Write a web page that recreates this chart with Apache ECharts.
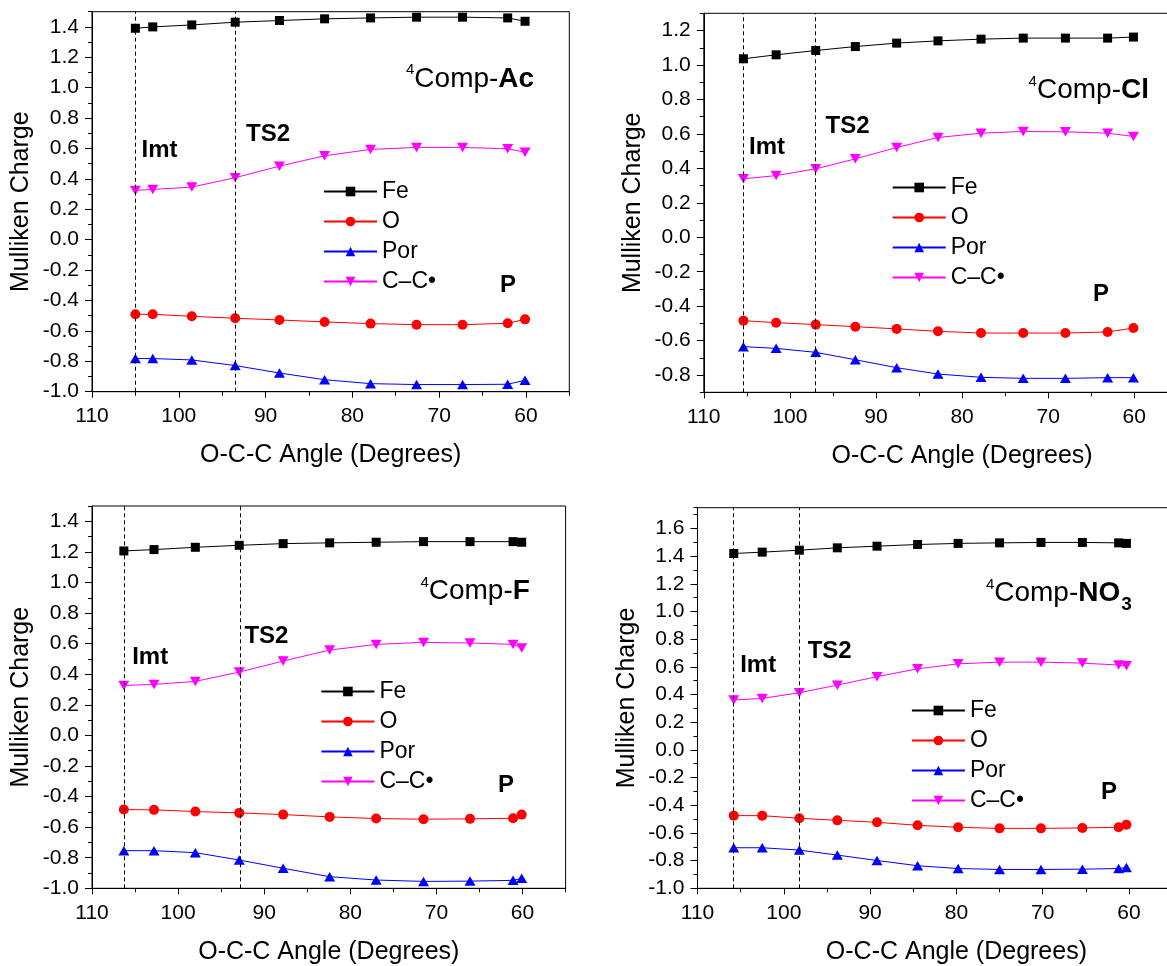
<!DOCTYPE html>
<html><head><meta charset="utf-8">
<script src="https://cdn.jsdelivr.net/npm/echarts@6/dist/echarts.min.js"></script>
<style>html,body{margin:0;padding:0;background:#fff}#c{width:1167px;height:966px}</style>
</head><body><div id="c"></div>
<script>
// ---------- data ----------
const seriesNames = ['Fe', 'O', 'Por', 'C\u2013C\u2022'];
const xTickLabels = [110, 100, 90, 80, 70, 60];

const yTicksAc  = [-1.0, -0.8, -0.6, -0.4, -0.2, 0.0, 0.2, 0.4, 0.6, 0.8, 1.0, 1.2, 1.4];
const yTicksCl  = [-0.8, -0.6, -0.4, -0.2, 0.0, 0.2, 0.4, 0.6, 0.8, 1.0, 1.2];
const yTicksF   = [-1.0, -0.8, -0.6, -0.4, -0.2, 0.0, 0.2, 0.4, 0.6, 0.8, 1.0, 1.2, 1.4];
const yTicksNO3 = [-1.0, -0.8, -0.6, -0.4, -0.2, 0.0, 0.2, 0.4, 0.6, 0.8, 1.0, 1.2, 1.4, 1.6];

// 4Comp-Ac
const angleAc = [105.0, 103.0, 98.5, 93.5, 88.4, 83.2, 77.9, 72.6, 67.3, 62.1, 60.1];
const feAc    = [1.391, 1.400, 1.413, 1.431, 1.442, 1.453, 1.459, 1.464, 1.464, 1.459, 1.437];
const oAc     = [-0.491, -0.491, -0.504, -0.517, -0.528, -0.541, -0.552, -0.559, -0.559, -0.550, -0.524];
const porAc   = [-0.782, -0.782, -0.791, -0.828, -0.877, -0.921, -0.947, -0.953, -0.953, -0.951, -0.925];
const ccAc    = [0.324, 0.331, 0.346, 0.408, 0.484, 0.552, 0.594, 0.607, 0.607, 0.598, 0.576];
const marksAc = [105.0, 93.5];

// 4Comp-Cl
const angleCl = [105.4, 101.6, 97.0, 92.4, 87.6, 82.8, 77.8, 72.9, 68.0, 63.1, 60.1];
const feCl    = [1.036, 1.059, 1.084, 1.107, 1.127, 1.140, 1.150, 1.156, 1.156, 1.156, 1.162];
const oCl     = [-0.484, -0.496, -0.507, -0.519, -0.532, -0.546, -0.556, -0.556, -0.556, -0.550, -0.527];
const porCl   = [-0.635, -0.645, -0.668, -0.711, -0.757, -0.794, -0.813, -0.819, -0.819, -0.815, -0.815];
const ccCl    = [0.339, 0.358, 0.397, 0.455, 0.521, 0.579, 0.604, 0.614, 0.612, 0.604, 0.585];
const marksCl = [105.4, 97.0];

// 4Comp-F
const angleF = [106.3, 102.8, 98.0, 92.9, 87.8, 82.4, 77.0, 71.5, 66.1, 61.1, 60.1];
const feF    = [1.206, 1.215, 1.230, 1.243, 1.254, 1.259, 1.263, 1.267, 1.267, 1.267, 1.263];
const oF     = [-0.485, -0.487, -0.498, -0.507, -0.518, -0.533, -0.544, -0.548, -0.546, -0.542, -0.518];
const porF   = [-0.754, -0.754, -0.767, -0.815, -0.869, -0.924, -0.946, -0.955, -0.953, -0.948, -0.935];
const ccF    = [0.327, 0.333, 0.353, 0.414, 0.486, 0.558, 0.595, 0.608, 0.604, 0.595, 0.571];
const marksF = [106.3, 92.8];

// 4Comp-NO3
const angleNO3 = [105.8, 102.5, 98.2, 93.8, 89.2, 84.5, 79.8, 75.0, 70.2, 65.4, 61.2, 60.3];
const feNO3    = [1.419, 1.429, 1.443, 1.460, 1.472, 1.484, 1.492, 1.496, 1.499, 1.499, 1.496, 1.492];
const oNO3     = [-0.475, -0.475, -0.494, -0.509, -0.523, -0.545, -0.559, -0.567, -0.567, -0.564, -0.559, -0.540];
const porNO3   = [-0.707, -0.707, -0.724, -0.760, -0.799, -0.837, -0.857, -0.864, -0.864, -0.862, -0.857, -0.849];
const ccNO3    = [0.360, 0.372, 0.413, 0.468, 0.529, 0.586, 0.622, 0.634, 0.634, 0.627, 0.613, 0.608];
const marksNO3 = [105.8, 98.2];

// ---------- layout / style ----------
const FONT = '"Liberation Sans", Arial, Helvetica, sans-serif';
const colors = ['#000000', '#ff0000', '#0000ff', '#ff00ff'];
const symbols = ['rect', 'circle', 'triangle', 'path://M0,0L10,0L5,9Z'];
const symbolSizes = [9, 10, [11, 9.5], [11, 9.5]];

const panels = [
  { angle: angleAc, vals: [feAc, oAc, porAc, ccAc], marks: marksAc, yTicks: yTicksAc, yMin: -1.0, yMax: 1.5, xMin: 55,
    grid: { left: 92, top: 11.7, width: 477.3, height: 380 },
    legend: { left: 323, top: 180 },
    imt: [141.5, 150], ts2: [246, 134.3], p: [500, 285], title: [406, 78.8], label: '{b|Ac}' },
  { angle: angleCl, vals: [feCl, oCl, porCl, ccCl], marks: marksCl, yTicks: yTicksCl, yMin: -0.9, yMax: 1.3, xMin: 50,
    grid: { left: 703.8, top: 13.3, width: 516.6, height: 379 },
    legend: { left: 891.7, top: 176 },
    imt: [749, 147.7], ts2: [825.5, 126.7], p: [1093, 294.3], title: [1028.6, 90], label: '{b|Cl}' },
  { angle: angleF, vals: [feF, oF, porF, ccF], marks: marksF, yTicks: yTicksF, yMin: -1.0, yMax: 1.5, xMin: 55,
    grid: { left: 92, top: 506, width: 473.6, height: 382.3 },
    legend: { left: 320.4, top: 680 },
    imt: [132.2, 657.7], ts2: [244.4, 636.7], p: [498, 785], title: [420.4, 591.7], label: '{b|F}' },
  { angle: angleNO3, vals: [feNO3, oNO3, porNO3, ccNO3], marks: marksNO3, yTicks: yTicksNO3, yMin: -1.0, yMax: 1.75, xMin: 50,
    grid: { left: 697.5, top: 507.7, width: 517.8, height: 380.6 },
    legend: { left: 910.9, top: 699 },
    imt: [740.2, 665.7], ts2: [807.7, 651.7], p: [1101, 792.3], title: [985.9, 593.3], label: '{b|NO}{u|3}' }
];

const option = {
  animation: false, backgroundColor: '#ffffff',
  grid: [], xAxis: [], yAxis: [], series: [], legend: [], graphic: []
};

panels.forEach((p, i) => {
  option.grid.push({
    left: p.grid.left, top: p.grid.top, width: p.grid.width, height: p.grid.height,
    show: true, borderColor: '#000', borderWidth: 1, backgroundColor: 'transparent',
    containLabel: false, outerBoundsMode: 'none'
  });
  const xi = option.xAxis.length, yi = option.yAxis.length;
  // main x axis
  option.xAxis.push({
    type: 'value', gridIndex: i, position: 'bottom', inverse: true, min: p.xMin, max: 110, interval: 5,
    axisLine: { show: true, onZero: false, lineStyle: { color: '#000', width: 1 } },
    axisTick: { show: true, inside: false, length: 6, customValues: xTickLabels, lineStyle: { color: '#000', width: 1 } },
    axisLabel: { show: true, customValues: xTickLabels, fontSize: 21, color: '#000', margin: 14, fontFamily: FONT },
    splitLine: { show: false },
    name: 'O-C-C Angle (Degrees)', nameLocation: 'middle', nameGap: 51,
    nameTextStyle: { fontSize: 25, color: '#000', fontFamily: FONT }
  });
  // minor x ticks
  option.xAxis.push({
    type: 'value', gridIndex: i, position: 'bottom', offset: 0, inverse: true, min: p.xMin, max: 110, interval: 5,
    axisLine: { show: false, onZero: false },
    axisTick: { show: true, inside: false, length: 4, lineStyle: { color: '#000', width: 1 } },
    axisLabel: { show: false }, splitLine: { show: false }
  });
  // main y axis
  option.yAxis.push({
    type: 'value', gridIndex: i, position: 'left', min: p.yMin, max: p.yMax, interval: 0.1,
    axisLine: { show: true, onZero: false, lineStyle: { color: '#000', width: 1 } },
    axisTick: { show: true, inside: false, length: 7, customValues: p.yTicks, lineStyle: { color: '#000', width: 1 } },
    axisLabel: { show: true, customValues: p.yTicks, fontSize: 21, color: '#000', margin: 13, fontFamily: FONT,
      formatter: v => Number(v).toFixed(1) },
    splitLine: { show: false },
    name: 'Mulliken Charge', nameLocation: 'middle', nameGap: 58,
    nameTextStyle: { fontSize: 25, color: '#000', fontFamily: FONT }
  });
  // minor y ticks
  option.yAxis.push({
    type: 'value', gridIndex: i, position: 'left', offset: 0, min: p.yMin, max: p.yMax, interval: 0.1,
    axisLine: { show: false, onZero: false },
    axisTick: { show: true, inside: false, length: 4, lineStyle: { color: '#000', width: 1 } },
    axisLabel: { show: false }, splitLine: { show: false }
  });

  seriesNames.forEach((nm, s) => {
    const ser = {
      type: 'line', name: nm, xAxisIndex: xi, yAxisIndex: yi,
      data: p.angle.map((a, k) => [a, p.vals[s][k]]),
      symbol: symbols[s], symbolSize: symbolSizes[s], showSymbol: true,
      lineStyle: { color: colors[s], width: 1 },
      itemStyle: { color: colors[s], borderWidth: 0 },
      emphasis: { disabled: true }, silent: true, z: 3
    };
    if (s === 0) {
      ser.markLine = {
        silent: true, symbol: ['none', 'none'], animation: false,
        lineStyle: { color: '#000', type: [4, 3], width: 1 },
        label: { show: false }, emphasis: { disabled: true },
        data: p.marks.map(v => ({ xAxis: v }))
      };
    }
    option.series.push(ser);
  });

  option.legend.push({
    orient: 'vertical', left: p.legend.left, top: p.legend.top, padding: 0,
    itemWidth: 53, itemHeight: 12, itemGap: 7, selectedMode: false,
    data: seriesNames,
    textStyle: { fontSize: 23, color: '#000', fontFamily: FONT, lineHeight: 22.5 }
  });

  const bold = (t, xy) => ({
    type: 'text', x: xy[0], y: xy[1], silent: true, z: 10,
    style: { text: t, fontSize: 24, fontWeight: 'bold', fontFamily: FONT, fill: '#000', align: 'left', verticalAlign: 'middle' }
  });
  option.graphic.push(bold('Imt', p.imt), bold('TS2', p.ts2), bold('P', p.p));
  option.graphic.push({
    type: 'text', x: p.title[0], y: p.title[1], silent: true, z: 10,
    style: {
      text: '{s|4}{n|Comp-}' + p.label, fill: '#000', align: 'left', verticalAlign: 'middle',
      rich: {
        s: { fontSize: 15, fontFamily: FONT, verticalAlign: 'top', padding: [6, 0, 0, 0] },
        n: { fontSize: 28, fontFamily: FONT, lineHeight: 44 },
        b: { fontSize: 28, fontFamily: FONT, fontWeight: 'bold', lineHeight: 44 },
        u: { fontSize: 19, fontFamily: FONT, fontWeight: 'bold', verticalAlign: 'top', padding: [24, 0, 0, 1] }
      }
    }
  });
});

const chart = echarts.init(document.getElementById('c'), null, { renderer: 'canvas', width: 1167, height: 966 });
chart.setOption(option);
</script>
</body></html>
